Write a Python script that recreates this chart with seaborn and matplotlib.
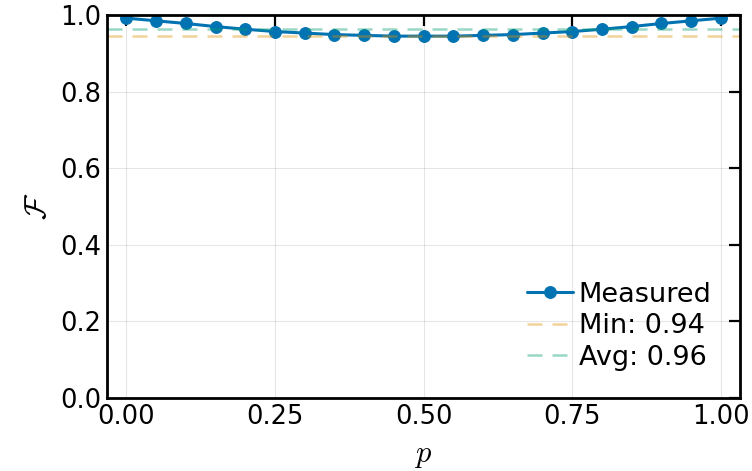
import numpy as np
import pandas as pd
import matplotlib
matplotlib.use("Agg")
import matplotlib.pyplot as plt
import seaborn as sns

# Fidelity measured over the mixing parameter p
p_values = [0.00, 0.05, 0.10, 0.15, 0.20, 0.25, 0.30, 0.35, 0.40, 0.45, 0.50,
            0.55, 0.60, 0.65, 0.70, 0.75, 0.80, 0.85, 0.90, 0.95, 1.00]
fidelity = [0.992, 0.985, 0.978, 0.970, 0.963, 0.957, 0.953, 0.949, 0.947, 0.945, 0.945,
            0.945, 0.947, 0.949, 0.953, 0.957, 0.963, 0.970, 0.978, 0.985, 0.992]
x_ticks = [0.00, 0.25, 0.50, 0.75, 1.00]
y_ticks = [0.0, 0.2, 0.4, 0.6, 0.8, 1.0]

f_min = min(fidelity)
f_avg = float(np.mean(fidelity))

sns.set_style("white")
plt.rcParams["font.family"] = ["DejaVu Sans"]
plt.rcParams["mathtext.fontset"] = "cm"
plt.rcParams["text.color"] = "black"
plt.rcParams["xtick.color"] = "black"
plt.rcParams["ytick.color"] = "black"

pal = sns.color_palette("colorblind")
blue, orange, green = pal[0], pal[1], pal[2]

df = pd.DataFrame({"p": p_values, "F": fidelity})

fig = plt.figure(figsize=(7.52, 4.71), dpi=100)
ax = fig.add_axes([0.142, 0.155, 0.842, 0.813])

ax.grid(True, color="black", alpha=0.1, linewidth=0.8)
ax.set_axisbelow(True)

sns.lineplot(data=df, x="p", y="F", ax=ax, color=blue, linewidth=2.2,
             marker="o", markersize=8.5, markeredgecolor=blue, label="Measured")
ax.axhline(f_min, color=orange, alpha=0.4, linewidth=1.8, dashes=(6, 4),
           label=f"Min: {f_min:.2f}")
ax.axhline(f_avg, color=green, alpha=0.4, linewidth=1.8, dashes=(6, 4),
           label=f"Avg: {f_avg:.2f}")

ax.set_xlim(-0.033, 1.032)
ax.set_ylim(0.0, 1.0)
ax.set_xticks(x_ticks)
ax.set_yticks(y_ticks)
ax.set_xticklabels([f"{v:.2f}" for v in x_ticks])
ax.set_yticklabels([f"{v:.1f}" for v in y_ticks])
ax.tick_params(direction="in", length=8, width=1.6, labelsize=18.5,
               top=True, right=True, pad=4, colors="black")

for s in ax.spines.values():
    s.set_color("black")
    s.set_linewidth(2)

ax.set_xlabel(r"$p$", fontsize=22, labelpad=8, color="black")
ax.set_ylabel(r"$\mathcal{F}$", fontsize=22, labelpad=6, color="black")

leg = ax.legend(loc="lower right", frameon=False, fontsize=19.5,
                handlelength=1.7, handletextpad=0.2, labelspacing=0.2,
                borderaxespad=0.3, bbox_to_anchor=(0.985, 0.022))
for t in leg.get_texts():
    t.set_color("black")

fig.savefig("out.png", dpi=100)
